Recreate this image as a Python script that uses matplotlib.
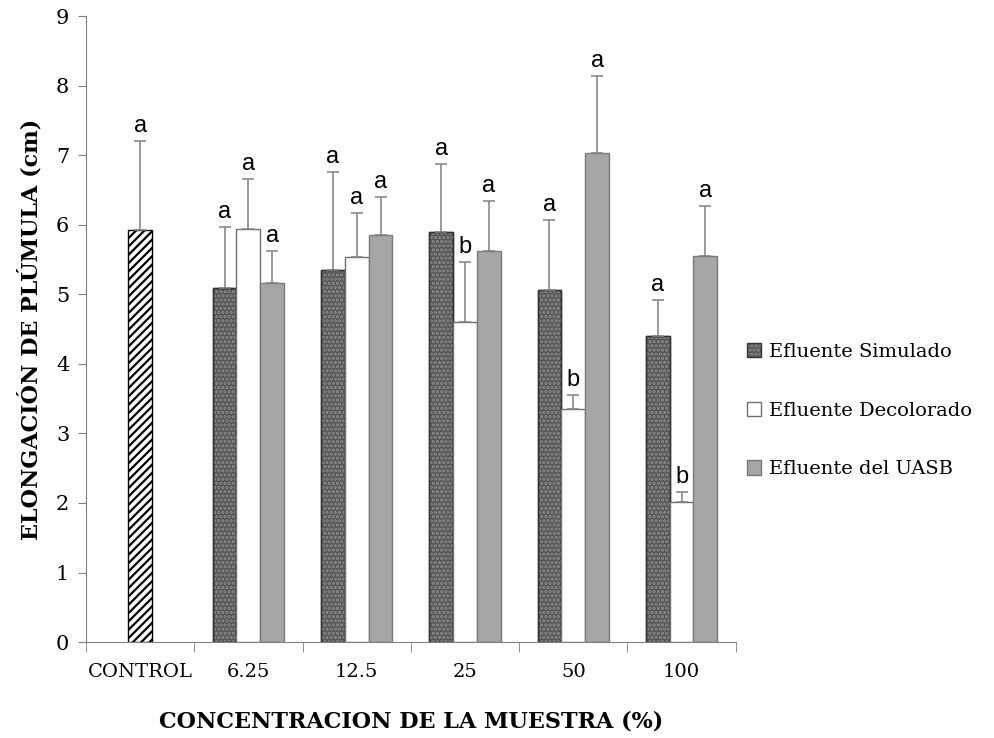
import numpy as np
import matplotlib.pyplot as plt

categorias = ['CONTROL', '6.25', '12.5', '25', '50', '100']

control_val = 5.92
control_err = 1.28
control_letra = 'a'

simulado = [5.09, 5.35, 5.89, 5.06, 4.40]
simulado_err = [0.88, 1.41, 0.98, 1.01, 0.52]
simulado_letras = ['a', 'a', 'a', 'a', 'a']

decolorado = [5.94, 5.54, 4.60, 3.35, 2.01]
decolorado_err = [0.72, 0.63, 0.86, 0.20, 0.15]
decolorado_letras = ['a', 'a', 'b', 'b', 'b']

uasb = [5.16, 5.85, 5.62, 7.03, 5.55]
uasb_err = [0.46, 0.55, 0.72, 1.11, 0.72]
uasb_letras = ['a', 'a', 'a', 'a', 'a']

plt.rcParams['font.family'] = ['DejaVu Serif']
plt.rcParams['hatch.linewidth'] = 1.6

fig = plt.figure(figsize=(9.95, 7.38), dpi=100)
ax = fig.add_axes([0.0864, 0.130, 0.653, 0.848])

w = 0.22
x = np.arange(1, 6)
ekw = dict(ecolor='#808080', elinewidth=1.1, capsize=4, capthick=1.1)
letra_font = dict(family='Liberation Sans', fontsize=17, ha='center', va='bottom')

# control
ax.bar(0, control_val, w, color='white', edgecolor='black', hatch='////', linewidth=1.0)
ax.errorbar(0, control_val, yerr=[[0], [control_err]], fmt='none', **ekw)
ax.text(0, control_val + control_err + 0.06, control_letra, **letra_font)

series = [
    (simulado, simulado_err, simulado_letras, -w, 'Efluente Simulado',
     dict(color='#555555', edgecolor='#333333', hatch='....')),
    (decolorado, decolorado_err, decolorado_letras, 0, 'Efluente Decolorado',
     dict(color='white', edgecolor='#707070')),
    (uasb, uasb_err, uasb_letras, w, 'Efluente del UASB',
     dict(color='#a6a6a6', edgecolor='#7a7a7a')),
]
for vals, errs, letras, off, lab, st in series:
    b = ax.bar(x + off, vals, w, linewidth=1.0, label=lab, **st)
    if 'hatch' in st:
        for p in b:
            p._hatch_color = (0.55, 0.55, 0.55, 1)
        ax.bar(x + off, vals, w, fill=False, edgecolor='#333333', linewidth=1.0)
    ax.errorbar(x + off, vals, yerr=[np.zeros(len(errs)), errs], fmt='none', **ekw)
    for xi, v, e, l in zip(x + off, vals, errs, letras):
        ax.text(xi, v + e + 0.06, l, **letra_font)

ax.set_xlim(-0.5, 5.5)
ax.set_ylim(0, 9)
ax.set_yticks(range(10))
ax.set_xticks(range(6))
ax.set_xticklabels(categorias)
ax.set_xticks(np.arange(-0.5, 5.6, 1), minor=True)
ax.tick_params(axis='x', which='major', length=0, pad=15, labelsize=14)
ax.tick_params(axis='x', which='minor', length=7, color='#808080')
ax.tick_params(axis='y', length=6, color='#808080', labelsize=15, pad=6)
for s in ['top', 'right']:
    ax.spines[s].set_visible(False)
for s in ['left', 'bottom']:
    ax.spines[s].set_color('#808080')

ax.set_xlabel('CONCENTRACION DE LA MUESTRA (%)', fontsize=16, fontweight='bold', labelpad=21)
ax.set_ylabel('ELONGACIÓN DE PLÚMULA (cm)', fontsize=16, fontweight='bold', labelpad=10)

ax.legend(loc='center left', bbox_to_anchor=(0.99, 0.37), frameon=False, fontsize=14,
          handlelength=0.75, handleheight=0.75, handletextpad=0.4, labelspacing=2.1)

fig.savefig('out.png', dpi=100)
